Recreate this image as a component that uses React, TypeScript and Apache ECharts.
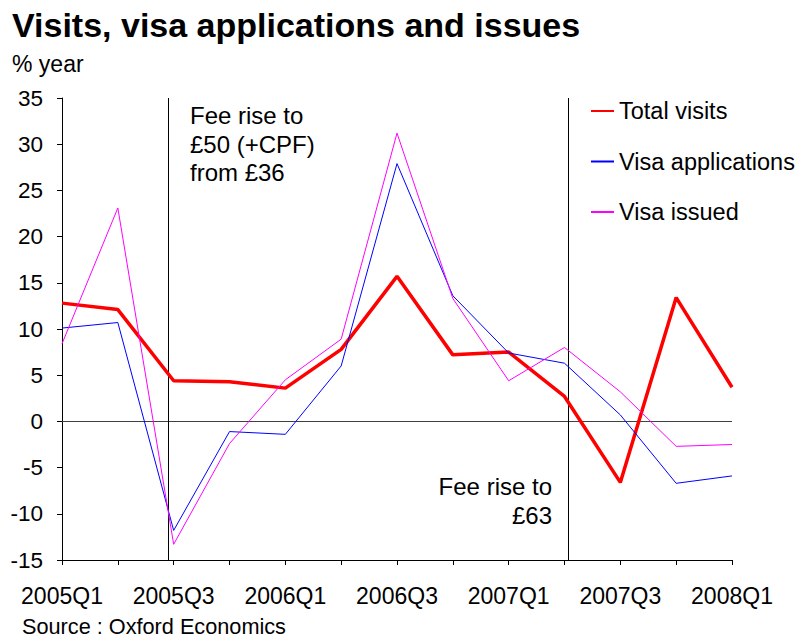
import React, { useEffect, useRef } from "react";
import * as echarts from "echarts";

const categories = [
  "2005Q1", "2005Q2", "2005Q3", "2005Q4",
  "2006Q1", "2006Q2", "2006Q3", "2006Q4",
  "2007Q1", "2007Q2", "2007Q3", "2007Q4",
  "2008Q1",
];
const totalVisits = [12.8, 12.1, 4.4, 4.3, 3.6, 7.8, 15.7, 7.2, 7.5, 2.7, -6.6, 13.4, 3.7];
const visaApplications = [10.1, 10.7, -11.8, -1.1, -1.4, 6.0, 27.9, 13.6, 7.4, 6.3, 0.7, -6.7, -5.9];
const visaIssued = [8.4, 23.1, -13.3, -2.4, 4.5, 8.9, 31.2, 13.3, 4.4, 8.0, 3.2, -2.7, -2.5];
const feeRisePositions = [1.9, 9.07];
const yTicks = { min: -15, max: 35, interval: 5 };

const FONT = "'Liberation Sans', Arial, Helvetica, sans-serif";

export default function App() {
  const ref = useRef<HTMLDivElement>(null);
  useEffect(() => {
    if (!ref.current) return;
    const chart = echarts.init(ref.current, undefined, { renderer: "svg" });
    const pairs = (arr: number[]) => arr.map((v, i) => [i, v]);
    chart.setOption({
      animation: false,
      backgroundColor: "#ffffff",
      textStyle: { fontFamily: FONT },
      grid: { left: 62, right: 71, top: 98, bottom: 77, containLabel: false, outerBoundsMode: "none" },
      legend: {
        orient: "vertical",
        left: 590,
        top: 99,
        padding: 0,
        itemWidth: 23,
        itemHeight: 14,
        itemGap: 26.5,
        itemStyle: { opacity: 0 },
        textStyle: { fontFamily: FONT, fontSize: 23.5, color: "#000", lineHeight: 24 },
        data: ["Total visits", "Visa applications", "Visa issued"],
      },
      xAxis: {
        type: "value",
        min: 0,
        max: categories.length - 1,
        interval: 1,
        axisLine: { onZero: false, lineStyle: { color: "#000", width: 1 } },
        axisTick: { show: true, length: 5, lineStyle: { color: "#000" } },
        splitLine: { show: false },
        axisLabel: {
          fontFamily: FONT,
          fontSize: 23,
          color: "#000",
          margin: 24,
          showMinLabel: true,
          showMaxLabel: true,
          formatter: (v: number) => (Math.round(v) % 2 === 0 ? categories[Math.round(v)] : ""),
        },
      },
      yAxis: {
        type: "value",
        min: yTicks.min,
        max: yTicks.max,
        interval: yTicks.interval,
        axisLine: { show: true, lineStyle: { color: "#000", width: 1 } },
        axisTick: { show: true, length: 5, lineStyle: { color: "#000" } },
        splitLine: { show: false },
        axisLabel: { fontFamily: FONT, fontSize: 22.5, color: "#000", margin: 19 },
      },
      series: [
        {
          name: "Total visits",
          type: "line",
          data: pairs(totalVisits),
          symbol: "none",
          lineStyle: { color: "#ff0000", width: 3.5 },
          itemStyle: { color: "#ff0000" },
          z: 3,
          markLine: {
            silent: true,
            symbol: "none",
            label: { show: false },
            z: 1,
            data: [
              { yAxis: 0, lineStyle: { color: "#404040", width: 1, type: "solid" } },
              ...feeRisePositions.map((p) => ({ xAxis: p, lineStyle: { color: "#000", width: 1, type: "solid" } })),
            ],
          },
        },
        {
          name: "Visa applications",
          type: "line",
          data: pairs(visaApplications),
          symbol: "none",
          lineStyle: { color: "#0000ff", width: 1 },
          itemStyle: { color: "#0000ff" },
          z: 4,
        },
        {
          name: "Visa issued",
          type: "line",
          data: pairs(visaIssued),
          symbol: "none",
          lineStyle: { color: "#ff00ff", width: 1 },
          itemStyle: { color: "#ff00ff" },
          z: 5,
        },
      ],
      graphic: [
        {
          type: "text",
          x: 12,
          y: 25,
          style: {
            text: "Visits, visa applications and issues",
            font: `bold 34px ${FONT}`,
            fill: "#000",
            verticalAlign: "middle",
          },
        },
        {
          type: "text",
          x: 12,
          y: 64,
          style: { text: "% year", font: `23px ${FONT}`, fill: "#000", verticalAlign: "middle" },
        },
        {
          type: "text",
          x: 190,
          y: 101.5,
          style: {
            text: "Fee rise to\n£50 (+CPF)\nfrom £36",
            font: `24px ${FONT}`,
            lineHeight: 28.5,
            fill: "#000",
            verticalAlign: "top",
          },
        },
        {
          type: "text",
          x: 552,
          y: 472,
          style: {
            text: "Fee rise to\n£63",
            font: `24px ${FONT}`,
            lineHeight: 29,
            fill: "#000",
            align: "right",
            verticalAlign: "top",
          },
        },
        {
          type: "text",
          x: 22,
          y: 626,
          style: { text: "Source : Oxford Economics", font: `21.7px ${FONT}`, fill: "#000", verticalAlign: "middle" },
        },
      ],
    });
    return () => chart.dispose();
  }, []);
  return (
    <div
      ref={ref}
      style={{ position: "fixed", left: 0, top: 0, width: 803, height: 637, background: "#fff" }}
    />
  );
}
